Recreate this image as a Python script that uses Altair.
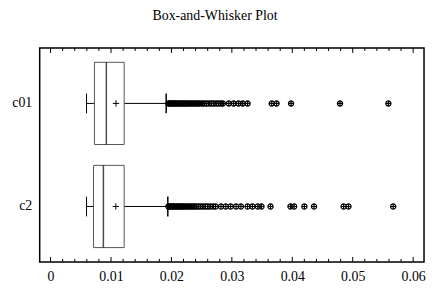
import altair as alt
import pandas as pd

categories = ["c01", "c2"]
q1 = [0.00726, 0.00710]
median = [0.00923, 0.00874]
q3 = [0.01218, 0.01218]
whisker_lo = [0.00595, 0.00595]
whisker_hi = [0.01913, 0.01940]
mean = [0.01082, 0.01080]

outliers_c01 = [0.0195, 0.0197, 0.0199, 0.0201, 0.0203, 0.0206, 0.0208, 0.0211, 0.0213,
                0.0216, 0.0218, 0.0221, 0.0224, 0.0226, 0.0229, 0.0232, 0.0235, 0.0238,
                0.0241, 0.0244, 0.0247, 0.0251, 0.0254, 0.0258, 0.0262, 0.0266, 0.0270,
                0.0274, 0.0278, 0.0282, 0.0285, 0.0295, 0.0303, 0.0311, 0.0318, 0.0326,
                0.0366, 0.0374, 0.0398, 0.0479, 0.0559]
outliers_c2 = [0.0195, 0.0197, 0.0199, 0.0201, 0.0203, 0.0205, 0.0208, 0.0210, 0.0213,
               0.0215, 0.0218, 0.0220, 0.0223, 0.0226, 0.0229, 0.0232, 0.0235, 0.0238,
               0.0241, 0.0245, 0.0248, 0.0252, 0.0256, 0.0260, 0.0264, 0.0269, 0.0273,
               0.0282, 0.0290, 0.0298, 0.0307, 0.0315, 0.0326, 0.0334, 0.0343, 0.0349,
               0.0364, 0.0397, 0.0403, 0.0420, 0.0436, 0.0485, 0.0493, 0.0567]

major_ticks = [0.0, 0.01, 0.02, 0.03, 0.04, 0.05, 0.06]
minor_ticks = [0.002, 0.004, 0.006, 0.008, 0.012, 0.014, 0.016, 0.018,
               0.022, 0.024, 0.026, 0.028, 0.032, 0.034, 0.036, 0.038,
               0.042, 0.044, 0.046, 0.048, 0.052, 0.054, 0.056, 0.058]

W, H = 388, 216
FONT = "Liberation Serif"

stats = pd.DataFrame({"cat": categories, "q1": q1, "median": median, "q3": q3,
                      "lo": whisker_lo, "hi": whisker_hi, "mean": mean})
out = pd.DataFrame({"cat": ["c01"] * len(outliers_c01) + ["c2"] * len(outliers_c2),
                    "v": outliers_c01 + outliers_c2})
majors = pd.DataFrame({"t": major_ticks})
minors = pd.DataFrame({"t": minor_ticks})

xscale = alt.Scale(domain=[-0.0018, 0.0618], nice=False, zero=False)
yscale = alt.Scale(domain=categories, paddingInner=0.2, paddingOuter=0.138)

xenc = alt.X("lo:Q", scale=xscale,
             axis=alt.Axis(values=major_ticks, format=".2~f", title=None, ticks=False,
                           domain=False, grid=False, labelFont=FONT, labelFontSize=14,
                           labelColor="black", labelPadding=8))
yenc = alt.Y("cat:N", scale=yscale, sort=categories,
             axis=alt.Axis(title=None, ticks=False, domain=False, grid=False,
                           labelFont=FONT, labelFontSize=14, labelColor="black",
                           labelPadding=8))
ycat = alt.Y("cat:N", scale=yscale, sort=categories)

base = alt.Chart(stats)
whisker = base.mark_rule(color="black", strokeWidth=1).encode(x=xenc, x2="hi:Q", y=yenc)
box = base.mark_bar(size=83, fill="white", stroke="#555555", strokeWidth=1).encode(
    x=alt.X("q1:Q", scale=xscale), x2="q3:Q", y=ycat)
med = base.mark_tick(size=83, thickness=1.5, color="black", orient="vertical").encode(
    x=alt.X("median:Q", scale=xscale), y=ycat)
cap_lo = base.mark_rule(color="black", strokeWidth=1, yOffset=-10, y2Offset=10).encode(
    x=alt.X("lo:Q", scale=xscale), y=ycat, y2="cat:N")
cap_hi = base.mark_rule(color="black", strokeWidth=1.5, yOffset=-10, y2Offset=10).encode(
    x=alt.X("hi:Q", scale=xscale), y=ycat, y2="cat:N")
mean_mark = base.mark_point(shape="M-1,0L1,0M0,-1L0,1", size=40, filled=False,
                            color="black", strokeWidth=1, opacity=1).encode(
    x=alt.X("mean:Q", scale=xscale), y=ycat)
outl = alt.Chart(out).mark_point(
    shape="M-1,0A1,1 0 1,1 1,0A1,1 0 1,1 -1,0ZM-1,0L1,0M0,-1L0,1",
    size=28, filled=False, color="black", strokeWidth=1.2, opacity=1).encode(
    x=alt.X("v:Q", scale=xscale), y=ycat)

def ticks(df, y0, y1):
    return alt.Chart(df).mark_rule(color="black", strokeWidth=1).encode(
        x=alt.X("t:Q", scale=xscale), y=alt.value(y0), y2=alt.value(y1))

tick_layers = [ticks(majors, H, H - 5), ticks(majors, 0, 5),
               ticks(minors, H, H - 3), ticks(minors, 0, 3)]

chart = alt.layer(whisker, box, med, cap_lo, cap_hi, mean_mark, outl, *tick_layers).properties(
    width=W, height=H,
    title=alt.TitleParams("Box-and-Whisker Plot", font=FONT, fontSize=14, fontWeight="normal",
                          color="black", anchor="middle", offset=25, dx=-17),
    autosize=alt.AutoSizeParams(type="none"),
    padding={"left": 32, "top": 39, "right": 2, "bottom": 27},
).configure_view(stroke="black", strokeWidth=1.5)

chart.save("out.html", embed_options={"renderer": "svg", "actions": False})
